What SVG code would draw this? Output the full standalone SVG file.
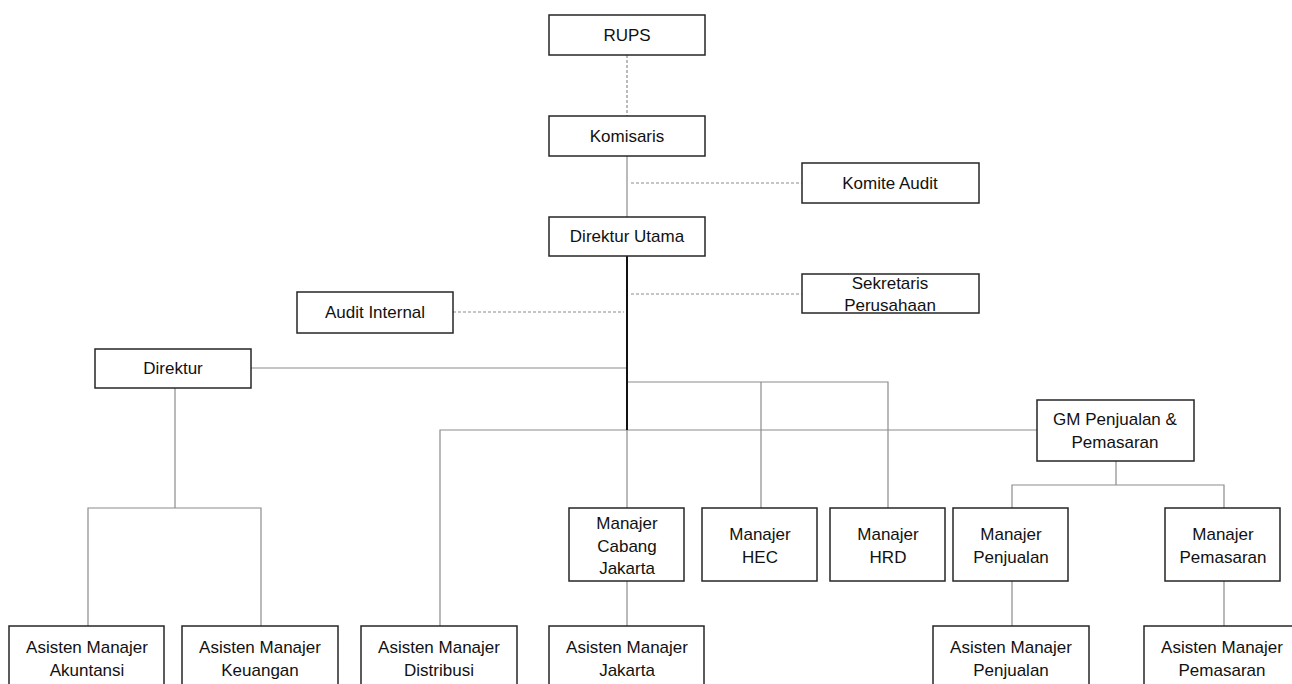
<svg xmlns="http://www.w3.org/2000/svg" width="1292" height="684" viewBox="0 0 1292 684">
<style>
.box{fill:#fff;stroke:#262626;stroke-width:1.5}
.t{font-family:"Liberation Sans",Arial,sans-serif;font-size:17px;fill:#111;text-anchor:middle;dominant-baseline:central}
.c{stroke:#8c8c8c;stroke-width:1.2;fill:none}
.d{stroke:#8c8c8c;stroke-width:1.2;fill:none;stroke-dasharray:3 2}
.m{stroke:#111;stroke-width:2;fill:none}
</style>
<rect width="1292" height="684" fill="#fff"/>
<g id="connectors">
<path class="d" d="M627 55V116"/>
<path class="c" d="M627 156V217"/>
<path class="d" d="M631 183H802"/>
<path class="d" d="M631 294H802"/>
<path class="d" d="M453 312H624"/>
<path class="c" d="M251 368H627"/>
<path class="c" d="M627 382H888V508M761 382V508"/>
<path class="c" d="M440 626V430H1037"/>
<path class="c" d="M627 430V508M627 581V626"/>
<path class="c" d="M175 388V508M88 626V508H261V626"/>
<path class="c" d="M1116 461V485M1012 508V485H1224V508"/>
<path class="c" d="M1012 581V626M1224 581V626"/>
<path class="m" d="M627 256V430"/>
</g>
<g id="rups"><rect class="box" x="549" y="15" width="156" height="40"/><text class="t" x="627" y="35">RUPS</text></g>
<g id="komisaris"><rect class="box" x="549" y="116" width="156" height="40"/><text class="t" x="627" y="136">Komisaris</text></g>
<g id="komite-audit"><rect class="box" x="802" y="163" width="177" height="40"/><text class="t" x="890" y="183">Komite Audit</text></g>
<g id="direktur-utama"><rect class="box" x="549" y="217" width="156" height="39"/><text class="t" x="627" y="236">Direktur Utama</text></g>
<g id="sekretaris"><rect class="box" x="802" y="274" width="177" height="39"/><text class="t" x="890" y="283">Sekretaris</text><text class="t" x="890" y="305">Perusahaan</text></g>
<g id="audit-internal"><rect class="box" x="297" y="292" width="156" height="41"/><text class="t" x="375" y="312">Audit Internal</text></g>
<g id="direktur"><rect class="box" x="95" y="349" width="156" height="39"/><text class="t" x="173" y="368">Direktur</text></g>
<g id="gm"><rect class="box" x="1037" y="400" width="157" height="61"/><text class="t" x="1115" y="419">GM Penjualan &amp;</text><text class="t" x="1115" y="442">Pemasaran</text></g>
<g id="manajer-cabang"><rect class="box" x="569" y="508" width="115" height="73"/><text class="t" x="627" y="523">Manajer</text><text class="t" x="627" y="546">Cabang</text><text class="t" x="627" y="568">Jakarta</text></g>
<g id="manajer-hec"><rect class="box" x="702" y="508" width="115" height="73"/><text class="t" x="760" y="534">Manajer</text><text class="t" x="760" y="557">HEC</text></g>
<g id="manajer-hrd"><rect class="box" x="830" y="508" width="115" height="73"/><text class="t" x="888" y="534">Manajer</text><text class="t" x="888" y="557">HRD</text></g>
<g id="manajer-penjualan"><rect class="box" x="953" y="508" width="115" height="73"/><text class="t" x="1011" y="534">Manajer</text><text class="t" x="1011" y="557">Penjualan</text></g>
<g id="manajer-pemasaran"><rect class="box" x="1165" y="508" width="115" height="73"/><text class="t" x="1223" y="534">Manajer</text><text class="t" x="1223" y="557">Pemasaran</text></g>
<g id="am-akuntansi"><rect class="box" x="9" y="626" width="155" height="70"/><text class="t" x="87" y="647">Asisten Manajer</text><text class="t" x="87" y="670">Akuntansi</text></g>
<g id="am-keuangan"><rect class="box" x="182" y="626" width="156" height="70"/><text class="t" x="260" y="647">Asisten Manajer</text><text class="t" x="260" y="670">Keuangan</text></g>
<g id="am-distribusi"><rect class="box" x="361" y="626" width="156" height="70"/><text class="t" x="439" y="647">Asisten Manajer</text><text class="t" x="439" y="670">Distribusi</text></g>
<g id="am-jakarta"><rect class="box" x="549" y="626" width="155" height="70"/><text class="t" x="627" y="647">Asisten Manajer</text><text class="t" x="627" y="670">Jakarta</text></g>
<g id="am-penjualan"><rect class="box" x="933" y="626" width="156" height="70"/><text class="t" x="1011" y="647">Asisten Manajer</text><text class="t" x="1011" y="670">Penjualan</text></g>
<g id="am-pemasaran"><rect class="box" x="1144" y="626" width="156" height="70"/><text class="t" x="1222" y="647">Asisten Manajer</text><text class="t" x="1222" y="670">Pemasaran</text></g>
</svg>
